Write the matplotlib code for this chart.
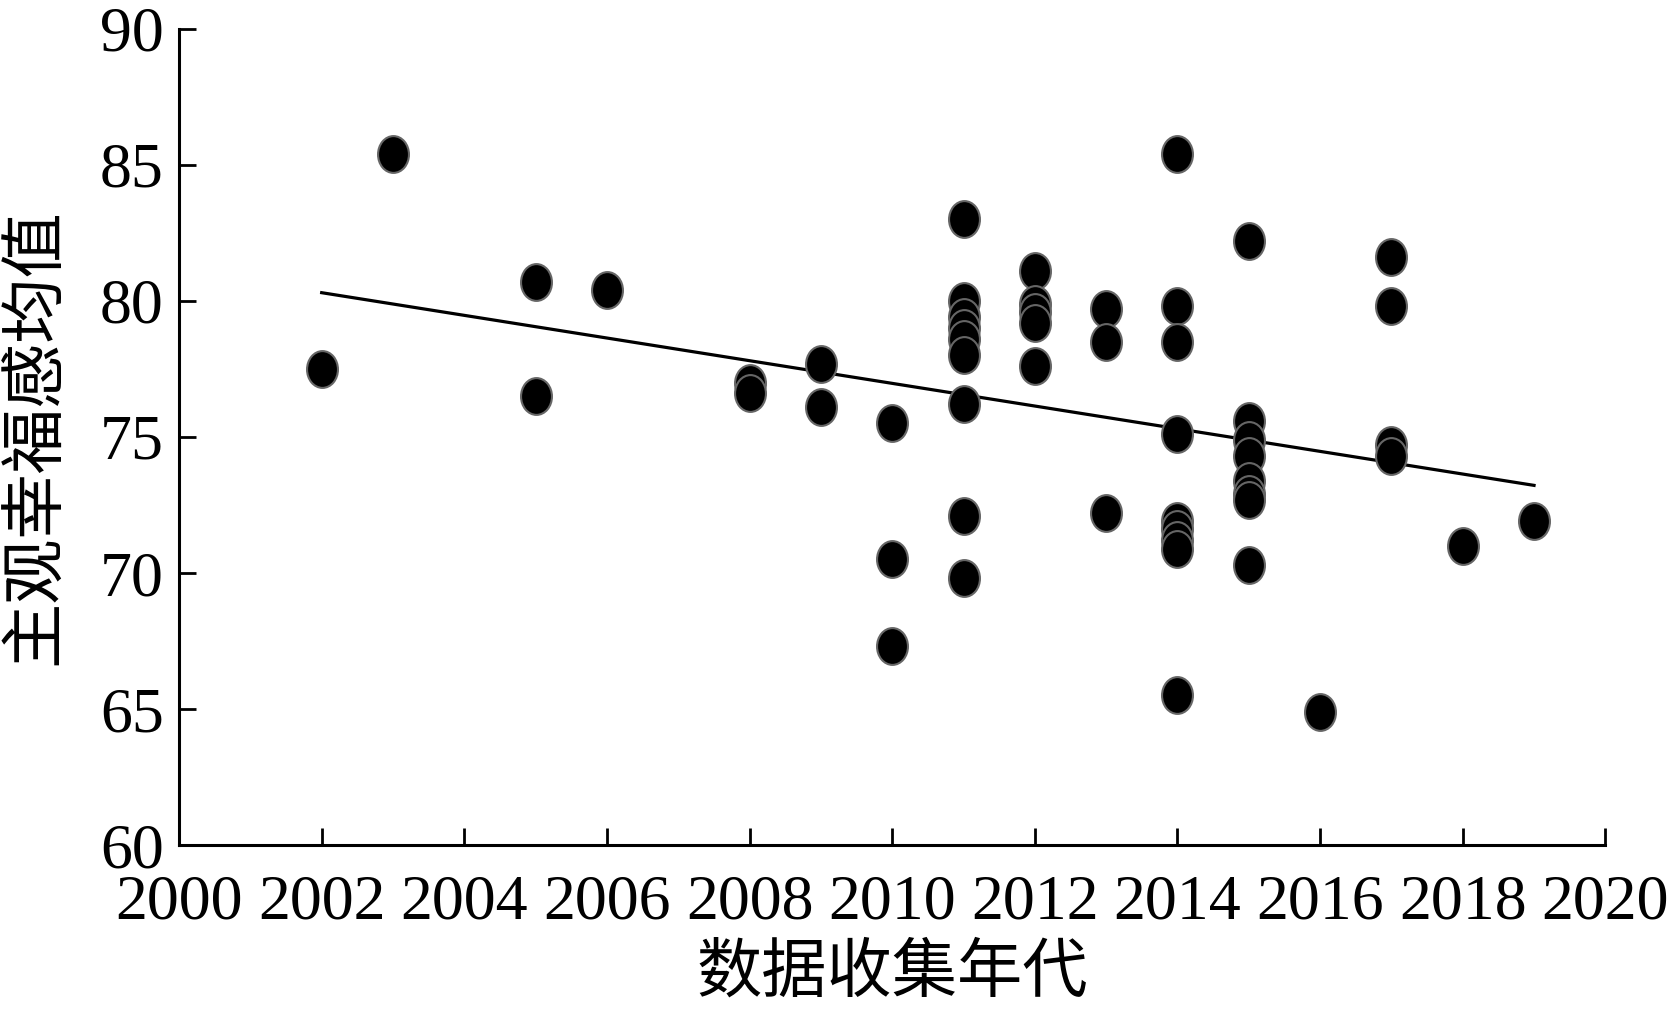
import numpy as np
import matplotlib.pyplot as plt
from matplotlib.path import Path

plt.rcParams['font.family'] = ['Liberation Serif', 'Noto Sans CJK SC']

# data
years = [2002, 2003, 2005, 2005, 2006, 2008, 2008, 2009, 2009,
         2010, 2010, 2010,
         2011, 2011, 2011, 2011, 2011, 2011, 2011, 2011, 2011,
         2012, 2012, 2012, 2012, 2012,
         2013, 2013, 2013,
         2014, 2014, 2014, 2014, 2014, 2014, 2014, 2014, 2014,
         2015, 2015, 2015, 2015, 2015, 2015, 2015, 2015,
         2016, 2017, 2017, 2017, 2017, 2018, 2019]
happiness = [77.5, 85.4, 80.7, 76.5, 80.4, 77.0, 76.6, 77.7, 76.1,
             75.5, 70.5, 67.3,
             83.0, 80.0, 79.4, 79.0, 78.6, 78.0, 76.2, 72.1, 69.8,
             81.1, 79.9, 79.6, 79.2, 77.6,
             79.7, 78.5, 72.2,
             85.4, 79.8, 78.5, 75.1, 71.9, 71.6, 71.2, 70.9, 65.5,
             82.2, 75.6, 74.9, 74.3, 73.4, 72.9, 72.7, 70.3,
             64.9, 81.6, 79.8, 74.7, 74.3, 71.0, 71.9]

x = np.array(years, dtype=float)
y = np.array(happiness)
slope, intercept = np.polyfit(x, y, 1)
xl = np.array([x.min(), x.max()])

circ = Path.unit_circle()
ellipse = Path(circ.vertices * [0.84, 1.0], circ.codes)

fig = plt.figure(figsize=(16.78, 10.09), dpi=100)
ax = fig.add_axes([0.1067, 0.1625, 0.85, 0.8088])

ax.scatter(x, y, s=26.5**2, marker=ellipse, facecolor='black',
           edgecolor='#666666', linewidths=1.5, zorder=3)
ax.plot(xl, slope * xl + intercept, color='black', lw=2.3, zorder=2)

ax.set_xlim(2000, 2020)
ax.set_ylim(60, 90)
ax.set_xticks(range(2000, 2021, 2))
ax.set_yticks(range(60, 91, 5))
for s in ['top', 'right']:
    ax.spines[s].set_visible(False)
for s in ['left', 'bottom']:
    ax.spines[s].set_linewidth(2.2)
ax.tick_params(direction='in', length=12, width=2, labelsize=46)
ax.tick_params(axis='y', pad=11)
ax.tick_params(axis='x', pad=21)

ax.set_xlabel('数据收集年代', fontsize=47, family='Noto Sans CJK SC', labelpad=6)
ax.set_ylabel('主观幸福感均值', fontsize=47, family='Noto Sans CJK SC', labelpad=22)

fig.savefig('out.png', dpi=100)
